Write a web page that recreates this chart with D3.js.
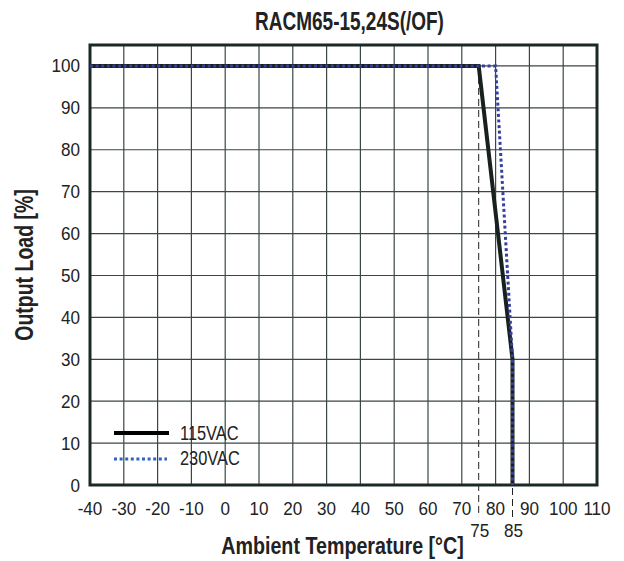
<!DOCTYPE html>
<html><head><meta charset="utf-8">
<script src="https://cdn.jsdelivr.net/npm/d3@7"></script>
<style>
body{margin:0;background:#fff;}
svg text{font-family:"Liberation Sans","Arial","Helvetica",sans-serif;fill:#222;}
</style></head>
<body><svg id="c" width="624" height="561"></svg>
<script>
const title = "RACM65-15,24S(/OF)";
const xLabel = "Ambient Temperature [°C]";
const yLabel = "Output Load [%]";
const seriesNames = ["115VAC", "230VAC"];
const temp115 = [-40, 75, 85, 85];
const load115 = [100, 100, 30, 0];
const temp230 = [-40, 80, 85, 85];
const load230 = [100, 100, 30, 0];
const xTicks = [-40,-30,-20,-10,0,10,20,30,40,50,60,70,80,90,100,110];
const yTicks = [0,10,20,30,40,50,60,70,80,90,100];
const markerTemps = [75, 85];

const svg = d3.select("#c");
const x = d3.scaleLinear().domain([-40,110]).range([90,597]);
const y = d3.scaleLinear().domain([0,105]).range([485,45]);

// grid
svg.append("g").selectAll("line").data(xTicks.slice(1,-1)).join("line")
  .attr("x1",d=>x(d)).attr("x2",d=>x(d)).attr("y1",y(0)).attr("y2",y(105))
  .attr("stroke","#3b4747").attr("stroke-width",1.2);
svg.append("g").selectAll("line").data(yTicks.slice(1)).join("line")
  .attr("y1",d=>y(d)).attr("y2",d=>y(d)).attr("x1",x(-40)).attr("x2",x(110))
  .attr("stroke","#3b4747").attr("stroke-width",1.2);

// marker dashed lines
svg.append("line").attr("x1",x(75)).attr("x2",x(75)).attr("y1",y(100)).attr("y2",517)
  .attr("stroke","#222").attr("stroke-width",1).attr("stroke-dasharray","7,4");
svg.append("line").attr("x1",x(85)).attr("x2",x(85)).attr("y1",y(0)).attr("y2",517)
  .attr("stroke","#222").attr("stroke-width",1).attr("stroke-dasharray","7,4").attr("stroke-dashoffset",-3);

// border
svg.append("rect").attr("x",x(-40)).attr("y",y(105)).attr("width",x(110)-x(-40)).attr("height",y(0)-y(105))
  .attr("fill","none").attr("stroke","#1c2828").attr("stroke-width",3);

const line = d3.line().x(d=>x(d[0])).y(d=>y(d[1]));
svg.append("path").datum(d3.zip(temp115,load115)).attr("d",line)
  .attr("fill","none").attr("stroke","#18211f").attr("stroke-width",4).attr("stroke-linejoin","miter");
svg.append("path").datum(d3.zip(temp230,load230)).attr("d",line)
  .attr("fill","none").attr("stroke","#36409c").attr("stroke-width",3).attr("stroke-dasharray","3,2.6");

// narrow text helper
function ntext(g, tx, ty, str, size, sx, opts={}) {
  const t = g.append("text")
    .attr("transform", `translate(${tx},${ty})` + (opts.rot ? ` rotate(${opts.rot})` : "") + ` scale(${sx},1)`)
    .attr("font-size", size).attr("text-anchor", opts.anchor || "start").text(str);
  if (opts.bold) t.attr("font-weight","bold").attr("fill","#1a1a1a");
  return t;
}

// tick labels
const gx = svg.append("g");
xTicks.forEach(d => ntext(gx, x(d), 515, d, 18, 0.95, {anchor:"middle"}));
markerTemps.forEach(d => ntext(gx, x(d)+1, 537, d, 18, 0.95, {anchor:"middle"}));
const gy = svg.append("g");
yTicks.forEach(d => ntext(gy, 80, y(d)+6.5, d, 18, 0.95, {anchor:"end"}));

// titles
ntext(svg, 349.5, 30, title, 25, 0.76, {anchor:"middle", bold:true});
ntext(svg, 342.5, 554, xLabel, 24, 0.82, {anchor:"middle", bold:true});
ntext(svg, 33, 265, yLabel, 25, 0.78, {anchor:"middle", bold:true, rot:-90});

// legend
const lg = svg.append("g");
lg.append("line").attr("x1",114).attr("x2",169).attr("y1",433).attr("y2",433)
  .attr("stroke","#000").attr("stroke-width",4);
lg.append("line").attr("x1",114).attr("x2",167).attr("y1",459).attr("y2",459)
  .attr("stroke","#2f64bf").attr("stroke-width",3).attr("stroke-dasharray","3,2.6");
seriesNames.forEach((d,i) => ntext(lg, 180, 440 + i*25, d, 20.5, 0.8));
</script></body></html>
